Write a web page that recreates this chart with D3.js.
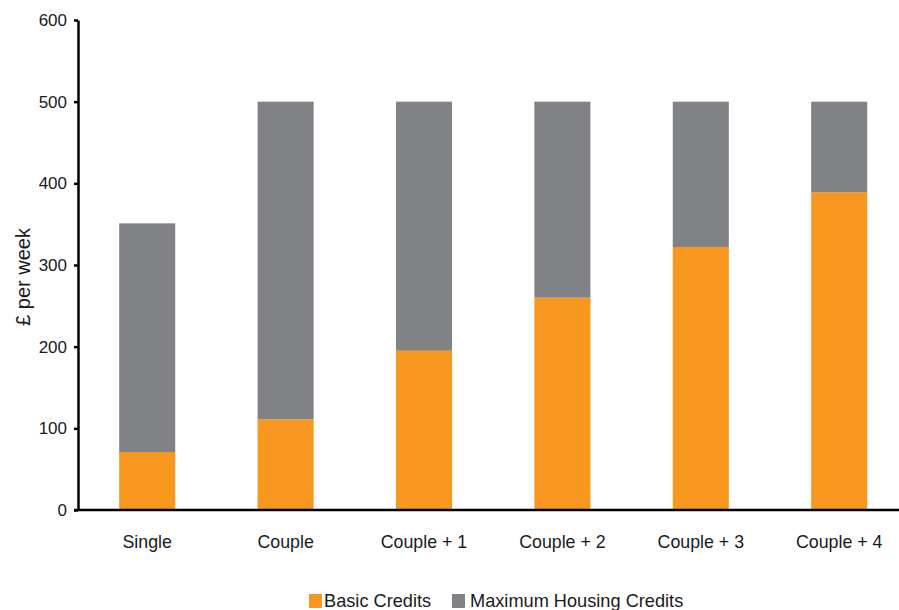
<!DOCTYPE html>
<html><head><meta charset="utf-8">
<script src="https://cdn.jsdelivr.net/npm/d3@7"></script>
<style>
body{margin:0;background:#fff;}
text{font-family:"Liberation Sans",Arial,Helvetica,sans-serif;fill:#1a1a1a;}
</style></head>
<body>
<svg id="chart" width="899" height="610"></svg>
<script>
const categories = ["Single","Couple","Couple + 1","Couple + 2","Couple + 3","Couple + 4"];
const basicCredits = [71, 111, 195, 260, 322, 389];
const housingCredits = [280, 389, 305, 240, 178, 111];
const seriesNames = ["Basic Credits","Maximum Housing Credits"];
const seriesColors = ["#F7971F","#818285"];
const yTicks = [0,100,200,300,400,500,600];

const svg = d3.select("#chart");
const x0 = 78, yBase = 510, yTop = 20;

const x = d3.scaleBand().domain(categories).range([x0, 908.4]).paddingInner(0.595).paddingOuter(0.2975);
const y = d3.scaleLinear().domain([0,600]).range([yBase, yTop]);

const rows = categories.map((c,i)=>({cat:c, basic:basicCredits[i], housing:housingCredits[i]}));
const stack = d3.stack().keys(["basic","housing"])(rows);

svg.append("g").selectAll("g").data(stack).join("g")
  .attr("fill",(d,i)=>seriesColors[i])
  .selectAll("rect").data(d=>d).join("rect")
  .attr("x",d=>x(d.data.cat))
  .attr("width",x.bandwidth())
  .attr("y",d=>y(d[1]))
  .attr("height",d=>y(d[0])-y(d[1]));

// y axis
const yAxis = svg.append("g").attr("transform",`translate(${x0},0)`)
  .call(d3.axisLeft(y).tickValues(yTicks).tickSize(4).tickPadding(7).tickSizeOuter(0));
yAxis.select(".domain").attr("stroke","#000").attr("stroke-width",2.5);
yAxis.selectAll(".tick line").attr("stroke","#000").attr("stroke-width",2.5);
yAxis.selectAll(".tick text").style("font-size","17px").attr("fill","#1a1a1a")
  .style("font-family",'"Liberation Sans",Arial,sans-serif');

// x baseline
svg.append("line").attr("x1",x0-4).attr("x2",899).attr("y1",y(0)).attr("y2",y(0))
  .attr("stroke","#000").attr("stroke-width",2.5);

// x labels
const xAxis = svg.append("g").attr("transform",`translate(0,${y(0)})`)
  .call(d3.axisBottom(x).tickSize(0).tickPadding(0));
xAxis.select(".domain").remove();
xAxis.selectAll(".tick text").attr("dy",null).attr("y",38)
  .style("font-size","17.8px").attr("fill","#1a1a1a")
  .style("font-family",'"Liberation Sans",Arial,sans-serif');

// y title
svg.append("text").attr("transform",`translate(30,277) rotate(-90)`)
  .attr("text-anchor","middle").style("font-size","20px").text("£ per week");

// legend
const legend = svg.append("g");
const legX = [309, 452];
const legTextX = [324, 470];
seriesNames.forEach((n,i)=>{
  legend.append("rect").attr("x",legX[i]).attr("y",594).attr("width",13).attr("height",14).attr("fill",seriesColors[i]);
  legend.append("text").attr("x",legTextX[i]).attr("y",607).style("font-size","18.2px").text(n);
});
</script>
</body></html>
